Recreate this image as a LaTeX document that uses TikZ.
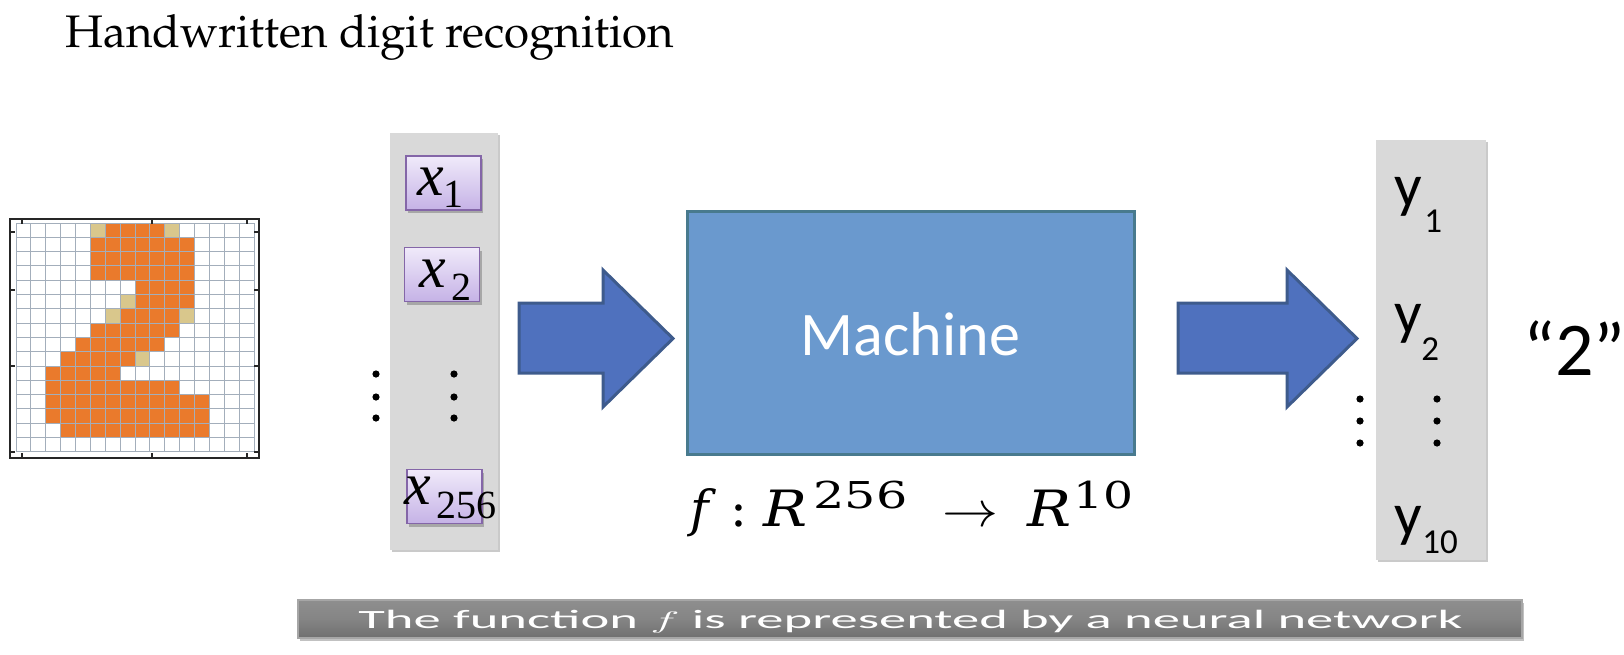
\documentclass[tikz,border=0pt]{standalone}
\usepackage{fontspec}
\usepackage{graphicx}
\usetikzlibrary{shadows}
\newfontfamily\calfont{Carlito}
\newfontfamily\serfont{Liberation Serif}
\newfontfamily\dvsfont{DejaVu Serif}
\newcommand\palfont{\fontencoding{OT1}\fontfamily{ppl}\selectfont}
\newcommand\supnum[2]{\raisebox{9pt}{\resizebox{#1}{\height}{\fontsize{18.5}{18.5}\selectfont #2}}}
\definecolor{colgray}{HTML}{D9D9D9}
\definecolor{arrowfill}{HTML}{4F71BE}
\definecolor{arrowline}{HTML}{3E5B8C}
\definecolor{machfill}{HTML}{6A99CE}
\definecolor{machline}{HTML}{487A8E}
\definecolor{orng}{HTML}{EA7A2C}
\definecolor{digtan}{HTML}{D9C78C}
\definecolor{gridln}{HTML}{A3AEBB}
\definecolor{boxtop}{HTML}{F0EAFA}
\definecolor{boxbot}{HTML}{C5B2E6}
\definecolor{boxline}{HTML}{8466A8}
\definecolor{bartop}{HTML}{8E8E8E}
\definecolor{barbot}{HTML}{6F6F6F}
\begin{document}
\begin{tikzpicture}[x=0.5pt,y=-0.5pt,
  col/.style={fill=colgray, inner sep=0pt, outer sep=0pt,
    drop shadow={shadow xshift=1.2pt, shadow yshift=-1.2pt, opacity=0.35, fill=black!60}},
  xbox/.style={draw=boxline, line width=0.8pt, top color=boxtop, bottom color=boxbot,
    inner sep=0pt, minimum width=37.5pt, minimum height=27pt,
    drop shadow={shadow xshift=1pt, shadow yshift=-1.5pt, opacity=0.35, fill=black!70}},
  xlet/.style={anchor=base west, inner sep=0pt, font=\serfont\itshape\fontsize{30}{30}\selectfont},
  xsub/.style={anchor=base west, inner sep=0pt, font=\serfont\fontsize{20}{20}\selectfont},
  ylet/.style={anchor=base west, inner sep=0pt, font=\calfont\fontsize{30.5}{30.5}\selectfont},
  ysub/.style={anchor=base west, inner sep=0pt, font=\calfont\fontsize{17.5}{17.5}\selectfont},
  blockarrow/.style={fill=arrowfill, draw=arrowline, line width=1.5pt, line join=miter},
  gridline/.style={draw=gridln, line width=0.5pt},
  frameline/.style={draw=black!85, line width=1pt},
  dotmark/.style={fill=black}
]
\useasboundingbox (0,0) rectangle (1624,654);

% title
\node[anchor=base west, inner sep=0pt, font=\palfont\fontsize{22.8}{26}\selectfont] (title) at (65,47.5) {Handwritten digit recognition};

% digit image
\foreach \r/\a/\b in {0/6/9,1/5/11,2/5/11,3/5/11,4/8/11,5/8/11,6/7/10,7/5/10,8/4/9,9/3/7,10/2/6,11/2/10,12/2/12,13/2/12,14/3/12}
  \foreach \c in {\a,...,\b}
    \fill[orng] ({16+\c*14.875},{223+\r*14.3}) rectangle ++(14.875,14.3);
\foreach \r/\c in {0/5,0/10,5/7,6/6,6/11,9/8}
  \fill[digtan] ({16+\c*14.875},{223+\r*14.3}) rectangle ++(14.875,14.3);
\foreach \i in {0,...,16} {
  \draw[gridline] ({16+\i*14.875},223) -- ({16+\i*14.875},451.8);
  \draw[gridline] (16,{223+\i*14.3}) -- (254,{223+\i*14.3});
}
\draw[frameline] (10,219) rectangle (259,458);
\foreach \t in {22,152,247} {
  \draw[frameline] (\t,219) -- (\t,224);
  \draw[frameline] (\t,458) -- (\t,453);
}
\foreach \t in {232,290,366,452} {
  \draw[frameline] (10,\t) -- (15,\t);
  \draw[frameline] (259,\t) -- (254,\t);
}

% input column
\node[col, minimum width=54pt, minimum height=208.5pt] (incol) at (444,341.5) {};
\node[xbox] (xb1) at (443.5,183) {};
\node[xbox] (xb2) at (442,274.5) {};
\node[xbox] (xb3) at (444.5,496.5) {};
\node[xlet] (x1) at (417,195) {x};
\node[xsub] (x1s) at (443,207) {1};
\node[xlet] (x2) at (419,287) {x};
\node[xsub] (x2s) at (451,300) {2};
\node[xlet] (x3) at (404,504) {x};
\node[xsub] (x3s) at (436,518) {256};
\foreach \yy in {374,397,418} {
  \fill[dotmark] (376,\yy) circle (3.6);
  \fill[dotmark] (454,\yy) circle (3.6);
}

% arrow 1
\draw[blockarrow] (519,303) -- (603,303) -- (603,270) -- (673,338.5) -- (603,407) -- (603,373) -- (519,373) -- cycle;

% machine
\node[draw=machline, fill=machfill, line width=1.5pt, minimum width=223.5pt, minimum height=121.5pt, inner sep=0pt] (machine) at (910.5,332.5) {};
\node[anchor=base, inner sep=0pt, text=white, font=\calfont\fontsize{31}{31}\selectfont] (machtxt) at (910.5,355) {Machine};
\node[anchor=base west, inner sep=0pt, font=\dvsfont\fontsize{25}{25}\selectfont] (func) at (690,526)
  {\hbox{\rlap{\itshape f}\hspace{20pt}\rlap{:}\hspace{16.5pt}\rlap{\resizebox{22pt}{\height}{\itshape R}}\hspace{25pt}\rlap{\supnum{47pt}{256}}\hspace{64.5pt}\rlap{\resizebox{28pt}{\height}{$\rightarrow$}}\hspace{42.5pt}\rlap{\resizebox{22pt}{\height}{\itshape R}}\hspace{23pt}\rlap{\supnum{30pt}{10}}\hspace{30pt}}};

% arrow 2
\draw[blockarrow] (1178,303) -- (1287,303) -- (1287,270) -- (1357,338.5) -- (1287,407) -- (1287,373) -- (1178,373) -- cycle;

% output column
\node[col, minimum width=55pt, minimum height=210pt] (outcol) at (1431,350) {};
\node[ylet] (y1) at (1394,206.5) {y};
\node[ysub] (y1s) at (1424,232) {1};
\node[ylet] (y2) at (1394,333) {y};
\node[ysub] (y2s) at (1421,360) {2};
\node[ylet] (y3) at (1394,535) {y};
\node[ysub] (y3s) at (1422,553) {10};
\foreach \yy in {399,421,443} {
  \fill[dotmark] (1360,\yy) circle (3.6);
  \fill[dotmark] (1437,\yy) circle (3.6);
}
\node[anchor=base west, inner sep=0pt, font=\calfont\fontsize{38}{38}\selectfont] (result) at (1523,375) {“2”};

% caption bar
\node[draw=black!35, line width=0.6pt, top color=bartop, bottom color=barbot, middle color=black!48,
  minimum width=612pt, minimum height=19pt, inner sep=0pt,
  drop shadow={shadow xshift=1.2pt, shadow yshift=-1.5pt, opacity=0.35, fill=black!70}] (bar) at (910,619) {};
\node[anchor=base west, inner sep=0pt, text=white] (bartxt) at (358,628)
  {\resizebox{552pt}{\height}{\calfont\fontsize{13.2}{14}\selectfont The function $f$ is represented by a neural network}};
\end{tikzpicture}
\end{document}
